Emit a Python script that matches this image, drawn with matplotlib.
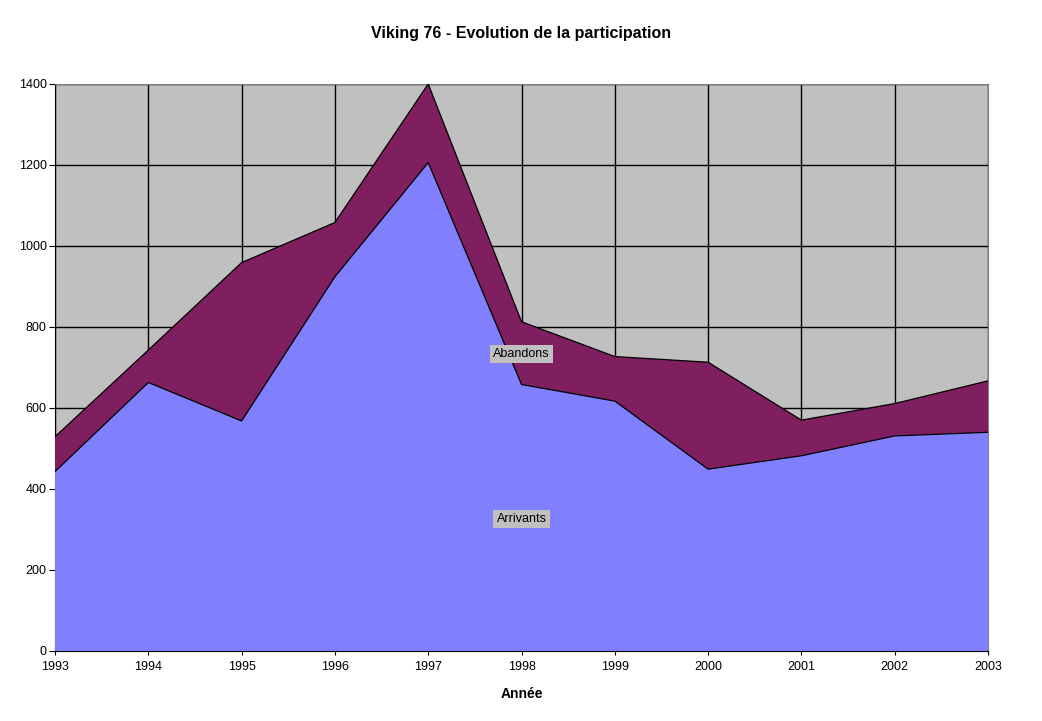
import matplotlib
matplotlib.use("Agg")
import matplotlib.pyplot as plt
import numpy as np

# données
annees = [1993, 1994, 1995, 1996, 1997, 1998, 1999, 2000, 2001, 2002, 2003]
arrivants = [443, 663, 568, 924, 1206, 658, 617, 449, 482, 531, 540]
abandons = [86, 80, 391, 134, 194, 155, 110, 264, 88, 80, 127]
y_ticks = [0, 200, 400, 600, 800, 1000, 1200, 1400]

plt.rcParams.update({
    "font.family": ["Liberation Sans", "DejaVu Sans"],
    "font.size": 9,
})

fig = plt.figure(figsize=(10.42, 7.21), dpi=100)
ax = fig.add_axes([0.0528, 0.0971, 0.8954, 0.7864])
ax.set_facecolor("#C0C0C0")

x = np.array(annees)
arr = np.array(arrivants)
tot = arr + np.array(abandons)

ax.fill_between(x, 0, arr, facecolor="#8080FF", edgecolor="none", zorder=3)
ax.fill_between(x, arr, tot, facecolor="#7F1F5F", edgecolor="none", zorder=3)
ax.plot(x, arr, color="black", linewidth=0.9, zorder=4)
ax.plot(x, tot, color="black", linewidth=0.9, zorder=4)

ax.set_xlim(annees[0], annees[-1])
ax.set_ylim(0, 1400)
ax.set_xticks(annees)
ax.set_yticks(y_ticks)
ax.grid(True, color="black", linewidth=1.0, zorder=1)
ax.set_axisbelow(True)

for side in ["top", "right"]:
    ax.spines[side].set_color("#808080")
for side in ["left", "bottom"]:
    ax.spines[side].set_color("black")
ax.tick_params(axis="x", direction="inout", length=6, width=0.8, labelsize=9, pad=4)
ax.tick_params(axis="y", direction="out", length=4, width=0.8, labelsize=9, pad=2)

bbox = dict(boxstyle="square,pad=0.25", facecolor="#C0C0C0", edgecolor="none")
ax.text(1998, 733, "Abandons", ha="center", va="center", fontsize=9, bbox=bbox, zorder=5)
ax.text(1998, 326, "Arrivants", ha="center", va="center", fontsize=9, bbox=bbox, zorder=5)

fig.text(0.5, 0.954, "Viking 76 - Evolution de la participation",
         ha="center", va="center", fontsize=11.5, fontweight="bold")
ax.set_xlabel("Année", fontsize=10, fontweight="bold", labelpad=10)

fig.savefig("out.png", dpi=100)
